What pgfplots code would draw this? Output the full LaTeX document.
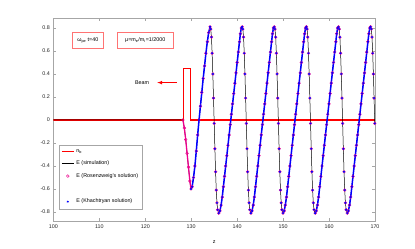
\documentclass[border=0pt]{standalone}
\usepackage{fontspec}
\setmainfont{Liberation Sans}
\usepackage{pgfplots}
\usepackage{pgfplotstable}
\pgfplotsset{compat=1.18}
\pgfplotstableread{
z E r b
100 0 nan nan
128.2 0 nan 0
128.5 -0.07 nan -0.07
128.8 -0.17 nan -0.17
129.1 -0.29 nan -0.29
129.4 -0.41 nan -0.41
129.7 -0.53 nan -0.53
129.95 -0.60 -0.60 -0.60
130.2 -0.58 -0.58 nan
130.5 -0.50 -0.50 nan
130.8 -0.40 -0.40 nan
131.1 -0.27 -0.27 nan
131.4 -0.13 -0.13 nan
131.7 0.00 0.00 nan
132.0 0.12 0.12 nan
132.3 0.24 0.24 nan
132.6 0.36 0.36 nan
132.9 0.47 0.47 nan
133.2 0.58 0.58 nan
133.5 0.68 0.68 nan
133.8 0.76 0.76 nan
134.1 0.81 0.81 nan
134.25 0.79 nan nan
134.4 0.72 nan nan
134.55 0.58 nan nan
134.7 0.40 nan nan
134.85 0.19 nan nan
135.0 -0.03 nan nan
135.15 -0.25 nan nan
135.3 -0.45 nan nan
135.45 -0.61 nan nan
135.6 -0.72 nan nan
135.75 -0.78 nan nan
136.0 -0.81 -0.81 nan
136.25 -0.79 -0.79 nan
136.5 -0.74 -0.74 nan
136.75 -0.67 -0.67 nan
137.0 -0.58 -0.58 nan
137.25 -0.49 -0.49 nan
137.5 -0.40 -0.40 nan
137.75 -0.31 -0.31 nan
138.0 -0.22 -0.22 nan
138.25 -0.13 -0.13 nan
138.5 -0.04 -0.04 nan
138.75 0.05 0.05 nan
139.0 0.14 0.14 nan
139.25 0.23 0.23 nan
139.5 0.32 0.32 nan
139.75 0.41 0.41 nan
140.0 0.50 0.50 nan
140.25 0.59 0.59 nan
140.5 0.68 0.68 nan
140.7 0.75 0.75 nan
140.9 0.80 0.80 nan
141.09 0.81 0.81 nan
141.24 0.79 nan nan
141.39 0.72 nan nan
141.54 0.58 nan nan
141.69 0.40 nan nan
141.84 0.19 nan nan
141.99 -0.03 nan nan
142.14 -0.25 nan nan
142.29 -0.45 nan nan
142.44 -0.61 nan nan
142.59 -0.72 nan nan
142.74 -0.78 nan nan
142.99 -0.81 -0.81 nan
143.24 -0.79 -0.79 nan
143.49 -0.74 -0.74 nan
143.74 -0.67 -0.67 nan
143.99 -0.58 -0.58 nan
144.24 -0.49 -0.49 nan
144.49 -0.40 -0.40 nan
144.74 -0.31 -0.31 nan
144.99 -0.22 -0.22 nan
145.24 -0.13 -0.13 nan
145.49 -0.04 -0.04 nan
145.74 0.05 0.05 nan
145.99 0.14 0.14 nan
146.24 0.23 0.23 nan
146.49 0.32 0.32 nan
146.74 0.41 0.41 nan
146.99 0.50 0.50 nan
147.24 0.59 0.59 nan
147.49 0.68 0.68 nan
147.69 0.75 0.75 nan
147.89 0.80 0.80 nan
148.08 0.81 0.81 nan
148.23 0.79 nan nan
148.38 0.72 nan nan
148.53 0.58 nan nan
148.68 0.40 nan nan
148.83 0.19 nan nan
148.98 -0.03 nan nan
149.13 -0.25 nan nan
149.28 -0.45 nan nan
149.43 -0.61 nan nan
149.58 -0.72 nan nan
149.73 -0.78 nan nan
149.98 -0.81 -0.81 nan
150.23 -0.79 -0.79 nan
150.48 -0.74 -0.74 nan
150.73 -0.67 -0.67 nan
150.98 -0.58 -0.58 nan
151.23 -0.49 -0.49 nan
151.48 -0.40 -0.40 nan
151.73 -0.31 -0.31 nan
151.98 -0.22 -0.22 nan
152.23 -0.13 -0.13 nan
152.48 -0.04 -0.04 nan
152.73 0.05 0.05 nan
152.98 0.14 0.14 nan
153.23 0.23 0.23 nan
153.48 0.32 0.32 nan
153.73 0.41 0.41 nan
153.98 0.50 0.50 nan
154.23 0.59 0.59 nan
154.48 0.68 0.68 nan
154.68 0.75 0.75 nan
154.88 0.80 0.80 nan
155.07 0.81 0.81 nan
155.22 0.79 nan nan
155.37 0.72 nan nan
155.52 0.58 nan nan
155.67 0.40 nan nan
155.82 0.19 nan nan
155.97 -0.03 nan nan
156.12 -0.25 nan nan
156.27 -0.45 nan nan
156.42 -0.61 nan nan
156.57 -0.72 nan nan
156.72 -0.78 nan nan
156.97 -0.81 -0.81 nan
157.22 -0.79 -0.79 nan
157.47 -0.74 -0.74 nan
157.72 -0.67 -0.67 nan
157.97 -0.58 -0.58 nan
158.22 -0.49 -0.49 nan
158.47 -0.40 -0.40 nan
158.72 -0.31 -0.31 nan
158.97 -0.22 -0.22 nan
159.22 -0.13 -0.13 nan
159.47 -0.04 -0.04 nan
159.72 0.05 0.05 nan
159.97 0.14 0.14 nan
160.22 0.23 0.23 nan
160.47 0.32 0.32 nan
160.72 0.41 0.41 nan
160.97 0.50 0.50 nan
161.22 0.59 0.59 nan
161.47 0.68 0.68 nan
161.67 0.75 0.75 nan
161.87 0.80 0.80 nan
162.06 0.81 0.81 nan
162.21 0.79 nan nan
162.36 0.72 nan nan
162.51 0.58 nan nan
162.66 0.40 nan nan
162.81 0.19 nan nan
162.96 -0.03 nan nan
163.11 -0.25 nan nan
163.26 -0.45 nan nan
163.41 -0.61 nan nan
163.56 -0.72 nan nan
163.71 -0.78 nan nan
163.96 -0.81 -0.81 nan
164.21 -0.79 -0.79 nan
164.46 -0.74 -0.74 nan
164.71 -0.67 -0.67 nan
164.96 -0.58 -0.58 nan
165.21 -0.49 -0.49 nan
165.46 -0.40 -0.40 nan
165.71 -0.31 -0.31 nan
165.96 -0.22 -0.22 nan
166.21 -0.13 -0.13 nan
166.46 -0.04 -0.04 nan
166.71 0.05 0.05 nan
166.96 0.14 0.14 nan
167.21 0.23 0.23 nan
167.46 0.32 0.32 nan
167.71 0.41 0.41 nan
167.96 0.50 0.50 nan
168.21 0.59 0.59 nan
168.46 0.68 0.68 nan
168.66 0.75 0.75 nan
168.86 0.80 0.80 nan
169.05 0.81 0.81 nan
169.2 0.79 nan nan
169.35 0.72 nan nan
169.5 0.58 nan nan
169.65 0.40 nan nan
169.8 0.19 nan nan
169.95 -0.03 nan nan
}\data
\newcommand{\fs}{\fontsize{5.4}{6.2}\selectfont}
\begin{document}
\begin{tikzpicture}
\useasboundingbox (-53.4bp,-28bp) rectangle (361.6bp,221bp);
\begin{axis}[
  at={(0,0)}, anchor=south west,
  scale only axis, width=321.6bp, height=202.7bp,
  xmin=100, xmax=170, ymin=-0.878, ymax=0.884,
  xtick={100,110,...,170},
  ytick={-0.8,-0.6,-0.4,-0.2,0,0.2,0.4,0.6,0.8},
  tick align=inside, major tick length=3bp,
  axis line style={gray!70, line width=0.5pt},
  every tick/.style={gray!70, line width=0.4pt},
  tick label style={font=\fs, text=black!85},
  /pgf/number format/assume math mode=true,
  xlabel={z},
  xlabel style={font=\fs, at={(axis description cs:0.5,-0.104)}, anchor=center},
  unbounded coords=jump,
  legend image code/.code={\draw[mark repeat=2,mark phase=2,#1] plot coordinates {(0bp,0bp) (6bp,0bp) (12bp,0bp)};},
  legend cell align=left,
  legend style={at={(axis description cs:0.0174,0.059)}, anchor=south west,
    draw=gray!70, line width=0.4pt, font=\fs, row sep=3.2bp, inner xsep=2bp, inner ysep=2.5bp},
]
\addplot[red, line width=1.2pt] coordinates {(100,0) (128.25,0) (128.25,0.45) (129.9,0.45) (129.9,0) (170,0)};
\addlegendentry{n\textsubscript{b}}
\addplot[black, line width=0.5pt] table[x=z, y=E] {\data};
\addlegendentry{E (simulation)}
\addplot[blue, line width=1.5pt, forget plot] table[x=z, y=r] {\data};
\addplot[magenta, line width=1.3pt, forget plot] table[x=z, y=b] {\data};
\addplot[magenta, only marks, mark=o, mark size=1.4pt, mark options={line width=0.45pt}, restrict x to domain=128.2:170] table[x=z, y=E] {\data};
\addlegendentry{E (Rosenzweig's solution)\hspace{22bp}}
\addlegendimage{empty legend}
\addlegendentry{\strut}
\addplot[blue, only marks, mark=asterisk, mark size=1.1pt, mark options={line width=0.4pt}, restrict x to domain=129.9:170] table[x=z, y=E] {\data};
\addlegendentry{E (Khachtryan solution)}
\node[draw=red!55, line width=0.5pt, font=\fs, minimum width=31bp, minimum height=16bp, inner sep=1.5bp] at (axis cs:107.49,0.693) {ω\textsubscript{pe} t=40};
\node[draw=red!55, line width=0.5pt, font=\fs, minimum width=56bp, minimum height=16bp, inner sep=1.5bp] at (axis cs:120.0,0.693) {μ=m\textsubscript{e}/m\textsubscript{i}=1/2000};
\node[font=\fs] at (axis cs:119.3,0.324) {Beam};
\draw[red, line width=0.7pt, -latex] (axis cs:126.8,0.325) -- (axis cs:122.6,0.325);
\end{axis}
\end{tikzpicture}
\end{document}
